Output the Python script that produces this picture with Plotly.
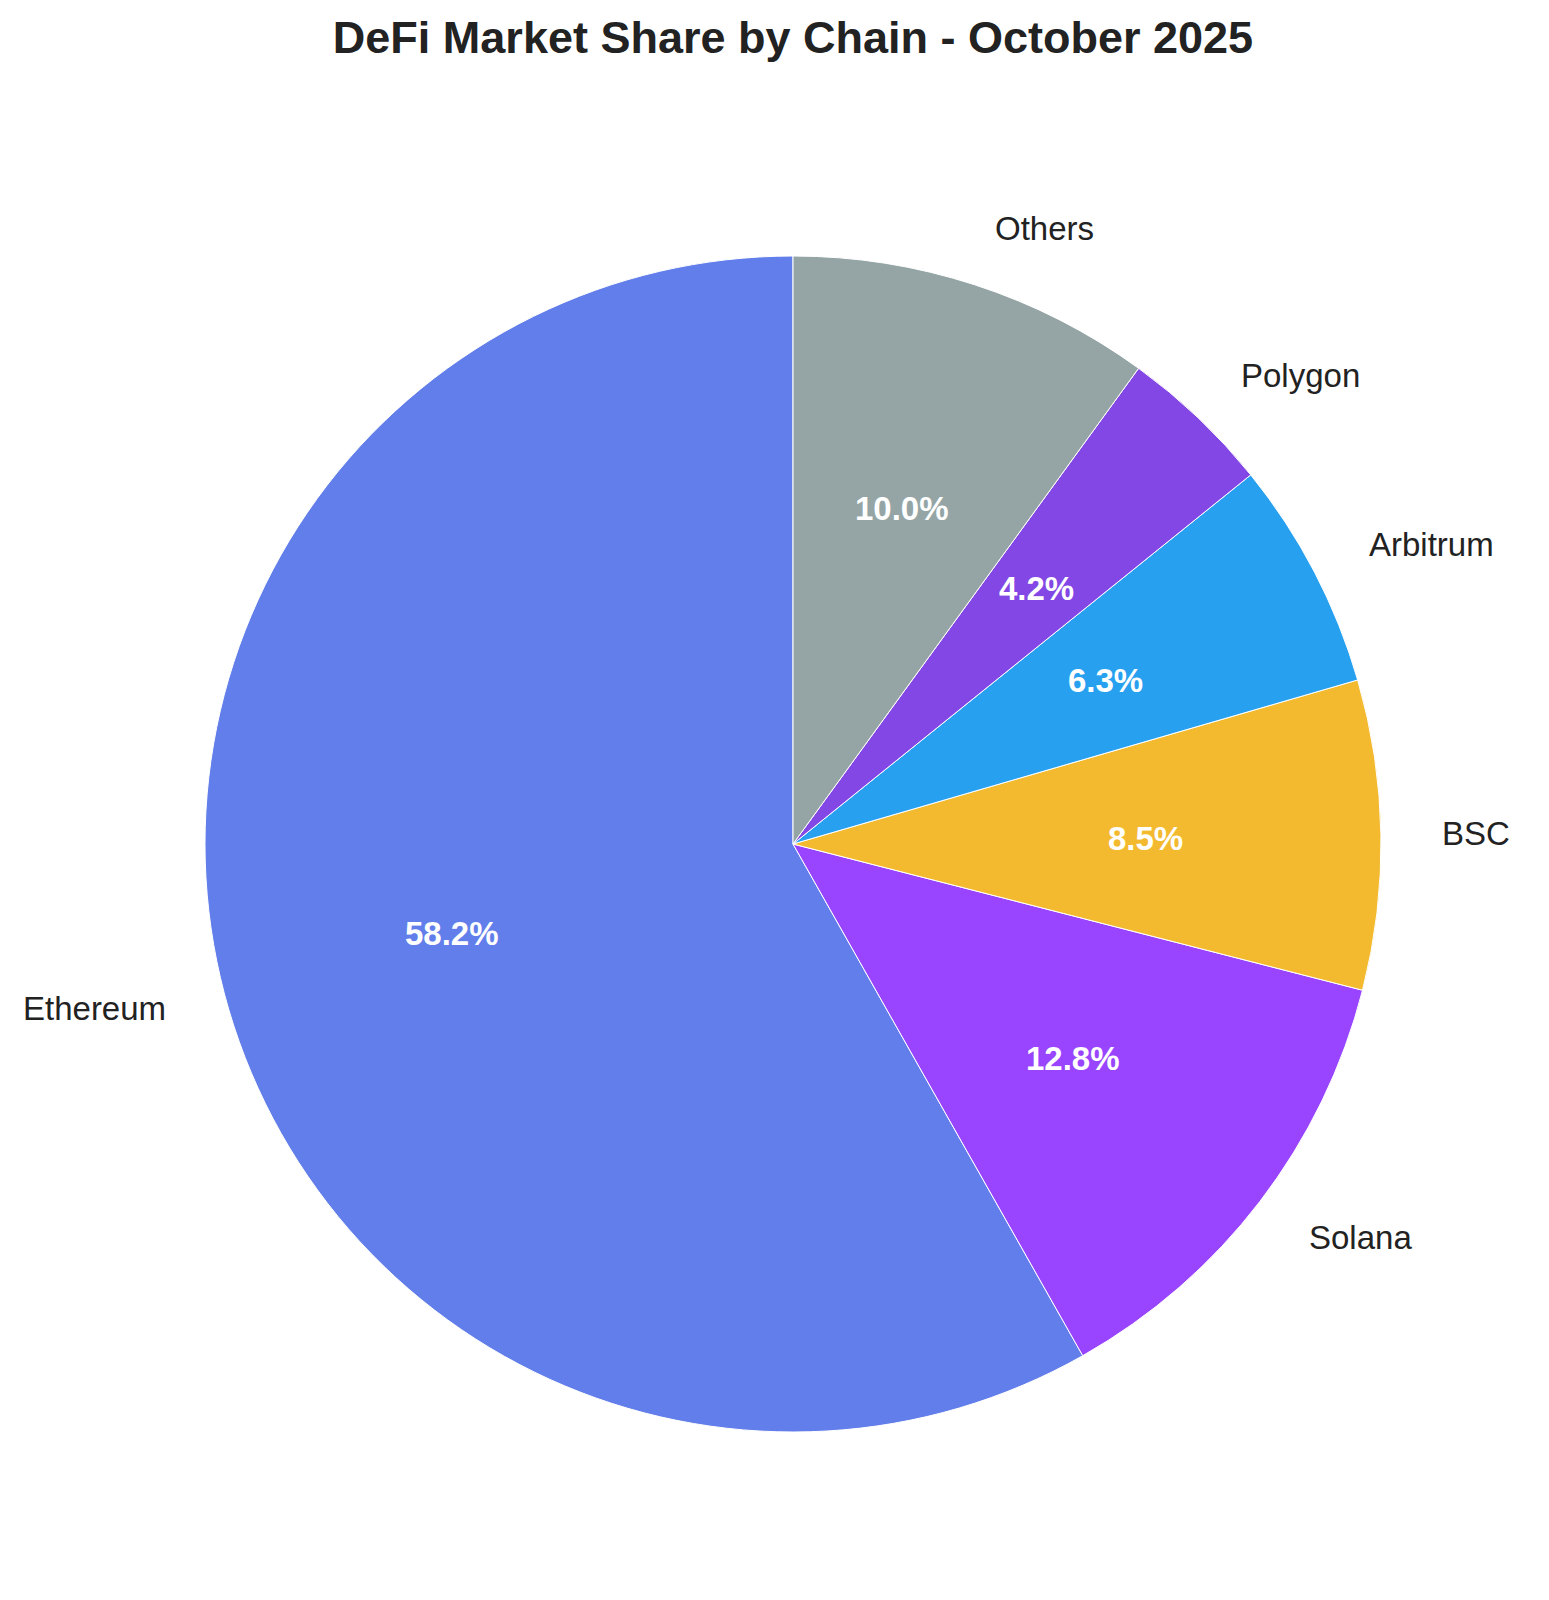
import numpy as np
import plotly.graph_objects as go

chains = ["Ethereum", "Solana", "BSC", "Arbitrum", "Polygon", "Others"]
shares = [58.2, 12.8, 8.5, 6.3, 4.2, 10.0]
colors = ["#627EEA", "#9945FF", "#F3BA2F", "#28A0F0", "#8247E5", "#95A5A6"]

W, H = 1549, 1600
# pie placement (pixels)
cx_px, cy_px, r_px = 793, 844, 588

dom_x = [(cx_px - r_px) / W, (cx_px + r_px) / W]
dom_y = [1 - (cy_px + r_px) / H, 1 - (cy_px - r_px) / H]
cx, cy = sum(dom_x) / 2, sum(dom_y) / 2

vals = np.array(shares)
frac = vals / vals.sum()

fig = go.Figure()
fig.add_trace(go.Pie(
    labels=chains,
    values=shares,
    sort=False,
    direction="counterclockwise",
    # plotly puts the first counterclockwise slice to the right of 'rotation',
    # shift it so Ethereum starts at 12 o'clock like matplotlib startangle=90
    rotation=-360 * frac[0],
    marker=dict(colors=colors, line=dict(color="white", width=1)),
    textinfo="none",
    hoverinfo="label+percent",
    domain=dict(x=dom_x, y=dom_y),
    showlegend=False,
))

# label and percentage positions like matplotlib (labeldistance 1.1, pctdistance 0.6)
ends = 90 + 360 * np.cumsum(frac)
mids = np.deg2rad(ends - 180 * frac)

annotations = []
for name, v, th in zip(chains, frac, mids):
    lx = cx + 1.1 * r_px * np.cos(th) / W
    ly = cy + 1.1 * r_px * np.sin(th) / H
    annotations.append(dict(
        x=lx, y=ly, xref="paper", yref="paper", text=name, showarrow=False,
        xanchor="left" if np.cos(th) > 0 else "right", yanchor="middle",
        font=dict(size=33, color="#222222", family="Liberation Sans, Arial, sans-serif"),
    ))
    px = cx + 0.6 * r_px * np.cos(th) / W
    py = cy + 0.6 * r_px * np.sin(th) / H
    annotations.append(dict(
        x=px, y=py, xref="paper", yref="paper", text=f"<b>{v * 100:.1f}%</b>",
        showarrow=False, xanchor="center", yanchor="middle",
        font=dict(size=33, color="white", family="Liberation Sans, Arial, sans-serif"),
    ))

fig.update_layout(
    width=W,
    height=H,
    margin=dict(l=0, r=0, t=0, b=0),
    paper_bgcolor="white",
    plot_bgcolor="white",
    title=dict(
        text="<b>DeFi Market Share by Chain - October 2025</b>",
        x=cx_px / W, xanchor="center",
        y=1 - 37.5 / H, yanchor="middle",
        font=dict(size=45, color="#222222", family="Liberation Sans, Arial, sans-serif"),
    ),
    annotations=annotations,
)

fig.write_html(
    "out.html",
    config={"displayModeBar": False},
    post_script="document.body.style.margin = '0';",
)
